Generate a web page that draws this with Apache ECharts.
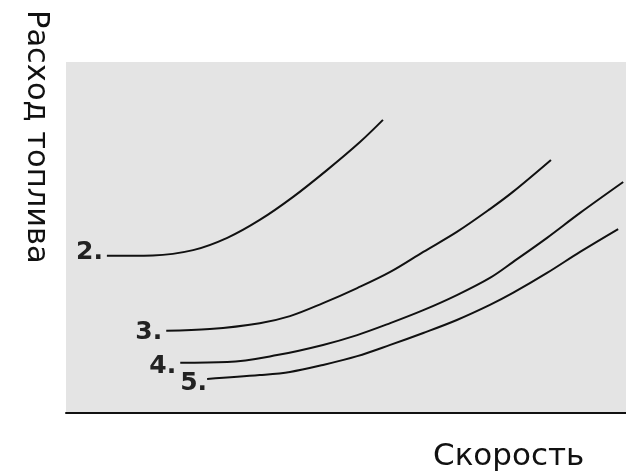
<!DOCTYPE html>
<html>
<head>
<meta charset="utf-8">
<script src="https://cdn.jsdelivr.net/npm/echarts@6/dist/echarts.min.js"></script>
<style>
  html, body { margin: 0; padding: 0; background: #fff; }
  #chart { width: 626px; height: 473px; }
</style>
</head>
<body>
<div id="chart"></div>
<script>
// названия кривых (подписи слева от начала линии)
const curveNames = ['2.', '3.', '4.', '5.'];

// кривые расхода топлива: [скорость, расход] в условных единицах 0..100
const curve2 = [[7.3, 44.8], [15.5, 44.9], [22.7, 46.4], [28.8, 49.9], [34.6, 55.0], [40.5, 61.5], [46.6, 69.2], [52.5, 77.2], [56.6, 83.5]];
const curve3 = [[17.9, 23.4], [25.7, 23.9], [34.6, 25.6], [40.0, 27.6], [45.9, 31.3], [52.0, 35.6], [57.9, 40.2], [63.8, 45.9], [69.8, 51.6], [75.7, 58.1], [79.8, 63.0], [86.6, 72.1]];
const curve4 = [[20.4, 14.3], [28.8, 14.5], [37.7, 16.5], [45.9, 19.4], [52.0, 22.2], [57.9, 25.6], [63.8, 29.3], [69.8, 33.6], [75.7, 38.5], [79.8, 43.0], [85.9, 49.9], [91.8, 57.0], [99.5, 65.8]];
const curve5 = [[25.2, 9.7], [34.6, 10.8], [40.0, 11.7], [45.9, 13.7], [52.0, 16.2], [57.9, 19.4], [63.8, 22.8], [69.8, 26.5], [75.7, 30.8], [79.8, 34.2], [85.9, 39.9], [91.8, 45.9], [98.6, 52.4]];

const curves = [curve2, curve3, curve4, curve5];
// сдвиг подписей относительно начала линии
const labelOffsets = [[0, -3], [0, 2], [0, 4], [4, 5]];

const chart = echarts.init(document.getElementById('chart'));

const series = curves.map((pts, i) => ({
  name: curveNames[i],
  type: 'line',
  smooth: 0.35,
  symbol: 'circle',
  symbolSize: 0,
  showSymbol: true,
  lineStyle: { color: '#111', width: 2 },
  itemStyle: { color: '#111' },
  data: pts.map((p, j) => j === 0 ? {
    value: p,
    label: {
      show: true,
      position: 'left',
      distance: 4,
      offset: labelOffsets[i],
      formatter: curveNames[i],
      fontFamily: 'DejaVu Sans',
      fontWeight: 'bold',
      fontSize: 25,
      color: '#222'
    }
  } : p)
}));

chart.setOption({
  animation: false,
  grid: {
    left: 66, right: 0, top: 62, bottom: 60,
    show: true,
    backgroundColor: '#e4e4e4',
    borderWidth: 0
  },
  xAxis: {
    type: 'value', min: 0, max: 100,
    axisLine: { show: true, lineStyle: { color: '#111', width: 2 } },
    axisTick: { show: false },
    axisLabel: { show: false },
    splitLine: { show: false }
  },
  yAxis: {
    type: 'value', min: 0, max: 100,
    axisLine: { show: false },
    axisTick: { show: false },
    axisLabel: { show: false },
    splitLine: { show: false }
  },
  graphic: [
    {
      type: 'text',
      x: 36, y: 10,
      rotation: -Math.PI / 2,
      style: {
        text: 'Расход топлива',
        font: '30.5px "DejaVu Sans"',
        fill: '#111',
        align: 'left',
        verticalAlign: 'middle'
      }
    },
    {
      type: 'text',
      x: 433, y: 457,
      style: {
        text: 'Скорость',
        font: '31px "DejaVu Sans"',
        fill: '#111',
        align: 'left',
        verticalAlign: 'middle'
      }
    }
  ],
  series: series
});
</script>
</body>
</html>
